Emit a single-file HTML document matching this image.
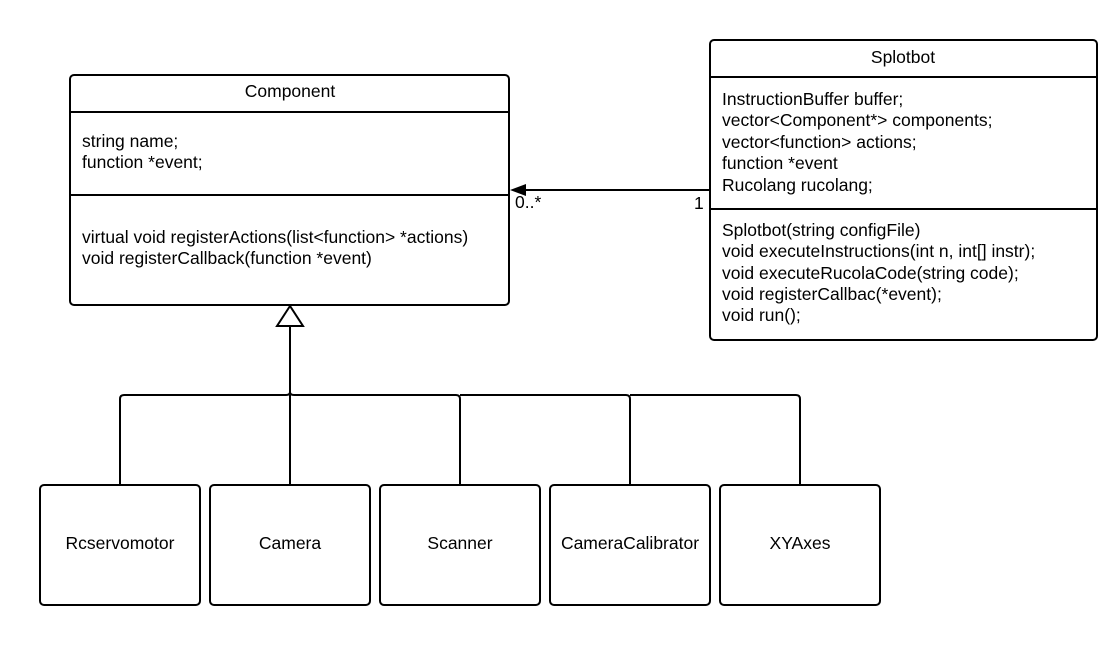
<!DOCTYPE html>
<html><head><meta charset="utf-8"><style>
html,body{margin:0;padding:0;background:#fff;}
svg{display:block;}
text{font-family:"Liberation Sans",sans-serif;font-size:17.5px;fill:#000;}
</style></head><body>
<svg width="1110" height="645" viewBox="0 0 1110 645" xmlns="http://www.w3.org/2000/svg">
<g fill="none" stroke="#000" stroke-width="2">
<rect x="70" y="75" width="439" height="230" rx="4"/>
<line x1="70" y1="112" x2="509" y2="112"/>
<line x1="70" y1="195" x2="509" y2="195"/>
<rect x="710" y="40" width="387" height="300" rx="4"/>
<line x1="710" y1="77" x2="1097" y2="77"/>
<line x1="710" y1="209" x2="1097" y2="209"/>
<line x1="524" y1="190" x2="710" y2="190"/>
<path d="M290 326 V392 M120 485 V399 Q120 395 124 395 H286 Q290 395 290 392 Q290 395 294 395 H456 Q460 395 460 399 V485 M290 395 V485 M460 395 H626 Q630 395 630 399 V485 M630 395 H796 Q800 395 800 399 V485"/>
<polygon points="290,306 277,326 303,326" fill="#fff"/>
<rect x="40" y="485" width="160" height="120" rx="4"/>
<rect x="210" y="485" width="160" height="120" rx="4"/>
<rect x="380" y="485" width="160" height="120" rx="4"/>
<rect x="550" y="485" width="160" height="120" rx="4"/>
<rect x="720" y="485" width="160" height="120" rx="4"/>
</g>
<polygon points="510,190 526,184 526,196" fill="#000"/>
<text x="290" y="97" text-anchor="middle">Component</text>
<text x="82" y="147">string name;</text>
<text x="82" y="168">function *event;</text>
<text x="82" y="243">virtual void registerActions(list&lt;function&gt; *actions)</text>
<text x="82" y="264">void registerCallback(function *event)</text>
<text x="515" y="208">0..*</text>
<text x="694" y="209">1</text>
<text x="903" y="63" text-anchor="middle">Splotbot</text>
<text x="722" y="105">InstructionBuffer buffer;</text>
<text x="722" y="126">vector&lt;Component*&gt; components;</text>
<text x="722" y="148">vector&lt;function&gt; actions;</text>
<text x="722" y="169">function *event</text>
<text x="722" y="191">Rucolang rucolang;</text>
<text x="722" y="236">Splotbot(string configFile)</text>
<text x="722" y="257">void executeInstructions(int n, int[] instr);</text>
<text x="722" y="279">void executeRucolaCode(string code);</text>
<text x="722" y="300">void registerCallbac(*event);</text>
<text x="722" y="321">void run();</text>
<text x="120" y="549" text-anchor="middle">Rcservomotor</text>
<text x="290" y="549" text-anchor="middle">Camera</text>
<text x="460" y="549" text-anchor="middle">Scanner</text>
<text x="630" y="549" text-anchor="middle">CameraCalibrator</text>
<text x="800" y="549" text-anchor="middle">XYAxes</text>
</svg>
</body></html>
